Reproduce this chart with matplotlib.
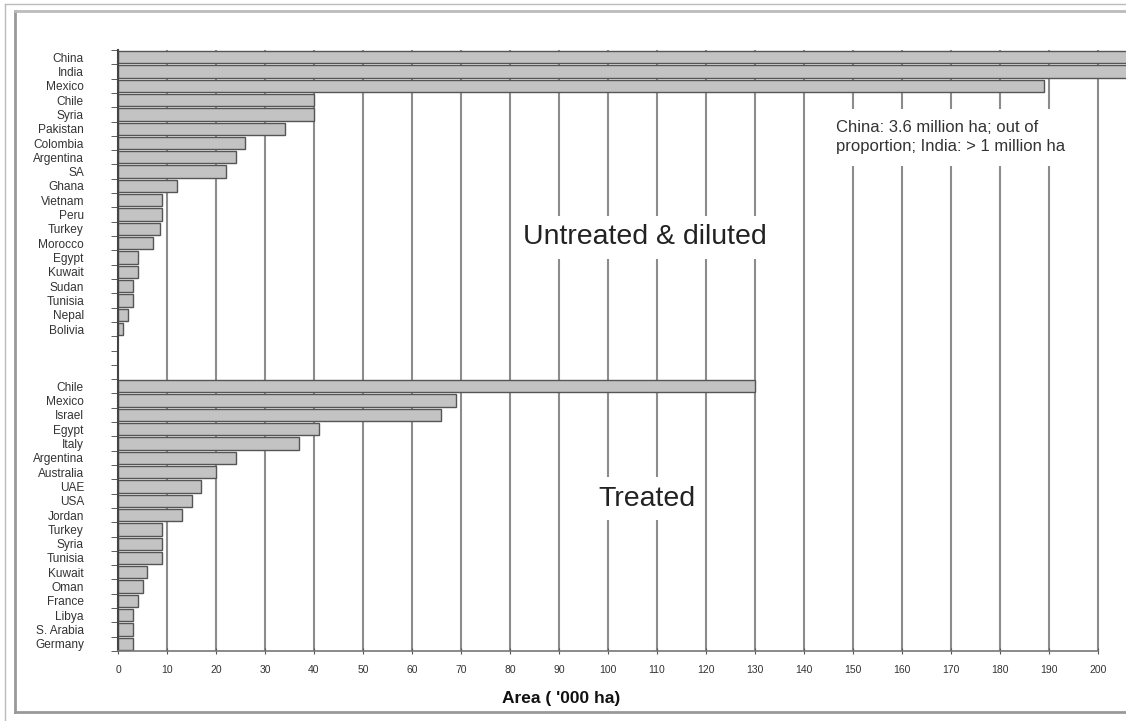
import matplotlib
matplotlib.use("Agg")
import matplotlib.pyplot as plt
from matplotlib.lines import Line2D
import numpy as np

plt.rcParams['font.family'] = ['Liberation Sans', 'DejaVu Sans']

# untreated & diluted wastewater irrigation ('000 ha); China/India are off scale
untreated_countries = ["China", "India", "Mexico", "Chile", "Syria", "Pakistan", "Colombia",
                       "Argentina", "SA", "Ghana", "Vietnam", "Peru", "Turkey", "Morocco",
                       "Egypt", "Kuwait", "Sudan", "Tunisia", "Nepal", "Bolivia"]
untreated_area = [3600, 1000, 189, 40, 40, 34, 26, 24, 22, 12, 9, 9, 8.6, 7.2, 4, 4, 3, 3, 2, 1]

# treated wastewater irrigation ('000 ha)
treated_countries = ["Chile", "Mexico", "Israel", "Egypt", "Italy", "Argentina", "Australia",
                     "UAE", "USA", "Jordan", "Turkey", "Syria", "Tunisia", "Kuwait", "Oman",
                     "France", "Libya", "S. Arabia", "Germany"]
treated_area = [130, 69, 66, 41, 37, 24, 20, 17, 15, 13, 9, 9, 9, 6, 5, 4, 3, 3, 3]

x_ticks = list(range(0, 201, 10))
n_gap = 3

labels = untreated_countries + [""] * n_gap + treated_countries
values = untreated_area + [0] * n_gap + treated_area
pos = np.arange(len(labels))

fig = plt.figure(figsize=(11.26, 7.21), dpi=100)
ax = fig.add_axes([118 / 1126, 1 - 651 / 721, 1 - 118 / 1126, (651 - 50) / 721])

for x in x_ticks:
    ax.axvline(x, color='#8c8c8c', lw=1.5, zorder=1)

bar_pos = [p for p, v in zip(pos, values) if v > 0]
bar_val = [v for v in values if v > 0]
ax.barh(bar_pos, bar_val, height=0.86, color='#c3c3c3', edgecolor='#555555',
        linewidth=1.0, zorder=2)

ax.set_xlim(0, (1126 - 118) / 4.9)
ax.set_ylim(len(labels) - 0.5, -0.5)

ax.set_xticks(x_ticks)
ax.set_xticklabels([str(v) for v in x_ticks], fontsize=7.5, color='#333333')
ax.tick_params(axis='x', length=4, direction='inout', color='#555555', pad=8)

ax.set_yticks(pos)
ax.set_yticklabels(labels, fontsize=8.6, color='#333333')
ax.tick_params(axis='y', which='major', length=0, pad=24.5)
ax.set_yticks(np.arange(len(labels) + 1) - 0.5, minor=True)
ax.tick_params(axis='y', which='minor', length=5, direction='out', color='#444444')

for s in ['top', 'right']:
    ax.spines[s].set_visible(False)
ax.spines['left'].set_color('#444444')
ax.spines['left'].set_linewidth(1.5)
ax.spines['bottom'].set_color('#777777')
ax.spines['bottom'].set_linewidth(1.2)
ax.spines['bottom'].set_bounds(0, 200)

ax.set_xlabel("Area ( '000 ha)", fontsize=12.5, fontweight='bold', color='#111111')
ax.xaxis.set_label_coords((561 - 118) / (1126 - 118), -0.066)

box = dict(facecolor='white', edgecolor='none', pad=6)
ax.text(107.5, 12.6, "Untreated & diluted", fontsize=20.5, ha='center', va='center',
        color='#222222', bbox=box, zorder=3)
ax.text(108, 30.85, "Treated", fontsize=20.5, ha='center', va='center',
        color='#222222', bbox=box, zorder=3)
ax.text(146.5, 5.6, "China: 3.6 million ha; out of\nproportion; India: > 1 million ha",
        fontsize=12, ha='left', va='center', color='#333333', linespacing=1.35,
        bbox=dict(facecolor='white', edgecolor='none', pad=8), zorder=3)

# picture frame
W, H = 1126, 721
fig.add_artist(Line2D([5 / W, 5 / W], [0, 1 - 4 / H], color='#bbbbbb', lw=1))
fig.add_artist(Line2D([5 / W, 1], [1 - 4 / H, 1 - 4 / H], color='#bbbbbb', lw=1))
fig.add_artist(Line2D([15 / W, 15 / W], [1 - 712 / H, 1 - 11 / H], color='#999999', lw=2))
fig.add_artist(Line2D([15 / W, 1], [1 - 11 / H, 1 - 11 / H], color='#bbbbbb', lw=2))
fig.add_artist(Line2D([15 / W, 1], [1 - 712 / H, 1 - 712 / H], color='#999999', lw=2))

fig.savefig("out.png", dpi=100)
